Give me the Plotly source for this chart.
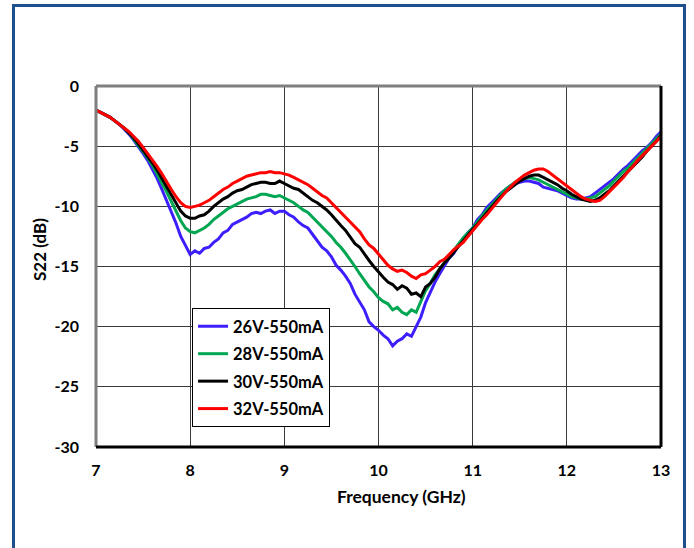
import plotly.graph_objects as go

# frequency grid (GHz), 0.05 GHz step
freq = [round(7.0 + 0.05 * i, 2) for i in range(121)]

s22_26v = [-2.0, -2.2, -2.4, -2.6, -2.9, -3.2, -3.6, -4.0, -4.5, -5.0,
           -5.6, -6.2, -6.9, -7.7, -8.6, -9.5, -10.5, -11.4, -12.5, -13.2,
           -14.0, -13.7, -13.9, -13.5, -13.4, -13.0, -12.7, -12.2, -12.0, -11.5,
           -11.3, -11.1, -10.9, -10.6, -10.5, -10.6, -10.4, -10.3, -10.6, -10.4,
           -10.4, -10.7, -10.9, -11.3, -11.6, -11.8, -12.3, -12.9, -13.4, -13.7,
           -14.2, -14.9, -15.3, -15.8, -16.4, -17.3, -18.0, -18.6, -19.6, -20.0,
           -20.3, -20.7, -21.0, -21.6, -21.2, -21.0, -20.6, -20.8, -20.0, -19.2,
           -18.0, -17.1, -16.3, -15.6, -15.0, -14.3, -13.9, -13.2, -12.8, -12.2,
           -11.8, -11.1, -10.7, -10.1, -9.7, -9.3, -8.9, -8.6, -8.3, -8.1,
           -8.0, -7.9, -7.9, -8.0, -8.1, -8.4, -8.5, -8.6, -8.7, -8.9,
           -9.1, -9.3, -9.4, -9.4, -9.3, -9.2, -8.9, -8.6, -8.3, -8.0,
           -7.7, -7.3, -6.9, -6.6, -6.2, -5.8, -5.4, -5.1, -4.7, -4.2,
           -3.8]

s22_28v = [-2.0, -2.2, -2.4, -2.6, -2.9, -3.2, -3.5, -3.9, -4.4, -4.9,
           -5.4, -6.0, -6.6, -7.3, -8.0, -8.8, -9.6, -10.4, -11.2, -11.8,
           -12.1, -12.2, -12.0, -11.8, -11.5, -11.1, -10.8, -10.5, -10.2, -10.0,
           -9.8, -9.6, -9.4, -9.3, -9.2, -9.0, -9.0, -9.1, -9.2, -9.1,
           -9.3, -9.5, -9.7, -10.0, -10.3, -10.5, -10.9, -11.3, -11.7, -12.1,
           -12.5, -13.0, -13.4, -13.9, -14.4, -15.0, -15.6, -16.1, -16.7, -17.1,
           -17.6, -17.9, -18.1, -18.6, -18.4, -18.8, -19.0, -18.6, -18.8, -17.9,
           -17.0, -16.4, -15.7, -15.2, -14.7, -14.1, -13.6, -13.1, -12.6, -12.2,
           -11.8, -11.3, -10.8, -10.3, -9.9, -9.4, -9.0, -8.6, -8.3, -8.0,
           -7.8, -7.7, -7.6, -7.7, -7.8, -8.0, -8.2, -8.4, -8.6, -8.8,
           -9.0, -9.2, -9.3, -9.4, -9.4, -9.3, -9.2, -8.9, -8.6, -8.3,
           -7.9, -7.5, -7.1, -6.8, -6.4, -6.0, -5.6, -5.2, -4.8, -4.4,
           -4.0]

s22_30v = [-2.0, -2.2, -2.4, -2.6, -2.9, -3.2, -3.5, -3.9, -4.3, -4.8,
           -5.3, -5.8, -6.4, -7.0, -7.7, -8.4, -9.1, -9.8, -10.4, -10.8,
           -11.0, -11.0, -10.8, -10.7, -10.4, -10.0, -9.7, -9.4, -9.2, -8.9,
           -8.7, -8.6, -8.4, -8.2, -8.1, -8.0, -8.0, -8.1, -8.1, -7.9,
           -8.1, -8.3, -8.5, -8.6, -8.9, -9.2, -9.5, -9.7, -10.0, -10.3,
           -10.7, -11.2, -11.6, -12.0, -12.5, -13.1, -13.4, -14.0, -14.5, -15.0,
           -15.5, -15.9, -16.3, -16.5, -16.9, -16.6, -16.8, -17.3, -17.2, -17.5,
           -16.7, -16.4, -15.9, -15.2, -14.7, -14.3, -13.8, -13.3, -12.8, -12.4,
           -11.9, -11.5, -11.0, -10.5, -10.1, -9.6, -9.2, -8.8, -8.5, -8.2,
           -7.9, -7.7, -7.5, -7.4, -7.4, -7.6, -7.8, -8.0, -8.2, -8.5,
           -8.7, -9.0, -9.2, -9.4, -9.5, -9.6, -9.5, -9.3, -9.0, -8.7,
           -8.3, -7.9, -7.5, -7.1, -6.7, -6.3, -5.9, -5.4, -5.0, -4.6,
           -4.1]

s22_32v = [-2.0, -2.2, -2.4, -2.6, -2.9, -3.2, -3.5, -3.8, -4.2, -4.6,
           -5.1, -5.6, -6.1, -6.7, -7.3, -8.0, -8.6, -9.2, -9.7, -10.0,
           -10.1, -10.0, -9.9, -9.7, -9.5, -9.2, -8.9, -8.6, -8.4, -8.1,
           -7.9, -7.7, -7.5, -7.4, -7.3, -7.2, -7.2, -7.1, -7.2, -7.2,
           -7.3, -7.4, -7.6, -7.8, -8.0, -8.2, -8.5, -8.8, -9.1, -9.3,
           -9.7, -10.1, -10.5, -10.9, -11.3, -11.7, -12.1, -12.7, -13.2, -13.5,
           -14.0, -14.5, -14.9, -15.2, -15.4, -15.3, -15.5, -15.8, -16.0, -15.7,
           -15.6, -15.3, -15.0, -14.6, -14.4, -14.0, -13.6, -13.3, -13.0, -12.5,
           -12.0, -11.6, -11.1, -10.7, -10.2, -9.8, -9.3, -8.8, -8.4, -8.0,
           -7.7, -7.4, -7.2, -7.0, -6.9, -6.9, -7.1, -7.4, -7.7, -8.0,
           -8.3, -8.6, -8.9, -9.2, -9.4, -9.5, -9.6, -9.5, -9.2, -8.8,
           -8.4, -8.0, -7.6, -7.1, -6.7, -6.2, -5.8, -5.4, -5.0, -4.6,
           -4.2]

series_names = ["26V-550mA", "28V-550mA", "30V-550mA", "32V-550mA"]
series_values = [s22_26v, s22_28v, s22_30v, s22_32v]
series_colors = ["#3c1eff", "#00a651", "#000000", "#ff0000"]

x_ticks = [7, 8, 9, 10, 11, 12, 13]
y_ticks = [0, -5, -10, -15, -20, -25, -30]
x_title = "Frequency (GHz)"
y_title = "S22 (dB)"

FONT = "Lato, 'Open Sans', sans-serif"

fig = go.Figure()
for name, vals, col in zip(series_names, series_values, series_colors):
    fig.add_trace(go.Scatter(x=freq, y=vals, mode="lines", name=name,
                             legendgroup=name,
                             line=dict(color=col, width=3)))

fig.update_layout(
    width=694, height=548,
    margin=dict(l=96, r=33, t=86, b=101),
    paper_bgcolor="white", plot_bgcolor="white",
    font=dict(family=FONT, size=16, color="black"),
    showlegend=True,
    legend=dict(x=0.17, y=0.385, xanchor="left", yanchor="top",
                bgcolor="white", bordercolor="black", borderwidth=1,
                font=dict(family=FONT, size=16.5, color="black", weight="bold"),
                tracegroupgap=3, itemwidth=30),
    xaxis=dict(range=[7, 13], tickvals=x_ticks, ticktext=[str(v) for v in x_ticks],
               showgrid=True, gridcolor="#3a3a3a", gridwidth=1,
               zeroline=False, showline=False, ticks="",
               ticklabelstandoff=12,
               tickfont=dict(family=FONT, size=16, weight="bold")),
    yaxis=dict(range=[-30, 0], tickvals=y_ticks, ticktext=[str(v) for v in y_ticks],
               showgrid=True, gridcolor="#3a3a3a", gridwidth=1,
               zeroline=False, showline=False, ticks="",
               ticklabelstandoff=16,
               tickfont=dict(family=FONT, size=16, weight="bold")),
)

# axis titles (placed as in the reference, slightly off-centre)
fig.add_annotation(text=x_title, xref="paper", yref="paper", x=0.54, y=-0.136,
                   xanchor="center", yanchor="middle", showarrow=False,
                   font=dict(family=FONT, size=17.5, weight="bold", color="black"))
fig.add_annotation(text=y_title, xref="paper", yref="paper", x=-0.099, y=0.546,
                   xanchor="center", yanchor="middle", showarrow=False, textangle=-90,
                   font=dict(family=FONT, size=17, weight="bold", color="black"))

# plot frame: gray top/left, black right/bottom
fig.add_shape(type="line", xref="paper", yref="paper", x0=0, x1=1, y0=1, y1=1,
              line=dict(color="#7f7f7f", width=3))
fig.add_shape(type="line", xref="paper", yref="paper", x0=0, x1=0, y0=0, y1=1,
              line=dict(color="#7f7f7f", width=3))
fig.add_shape(type="line", xref="paper", yref="paper", x0=1, x1=1, y0=0, y1=1,
              line=dict(color="black", width=3))
fig.add_shape(type="line", xref="paper", yref="paper", x0=0, x1=1, y0=0, y1=0,
              line=dict(color="black", width=3))

# outer blue frame
fig.add_shape(type="rect", xref="paper", yref="paper",
              x0=-0.146, x1=1.0416, y0=-0.4, y1=1.223,
              line=dict(color="#1f4e8c", width=3), layer="below")

fig.write_html("out.html", config={"displayModeBar": False},
               post_script="document.body.style.margin='0';document.body.style.overflow='hidden';")
